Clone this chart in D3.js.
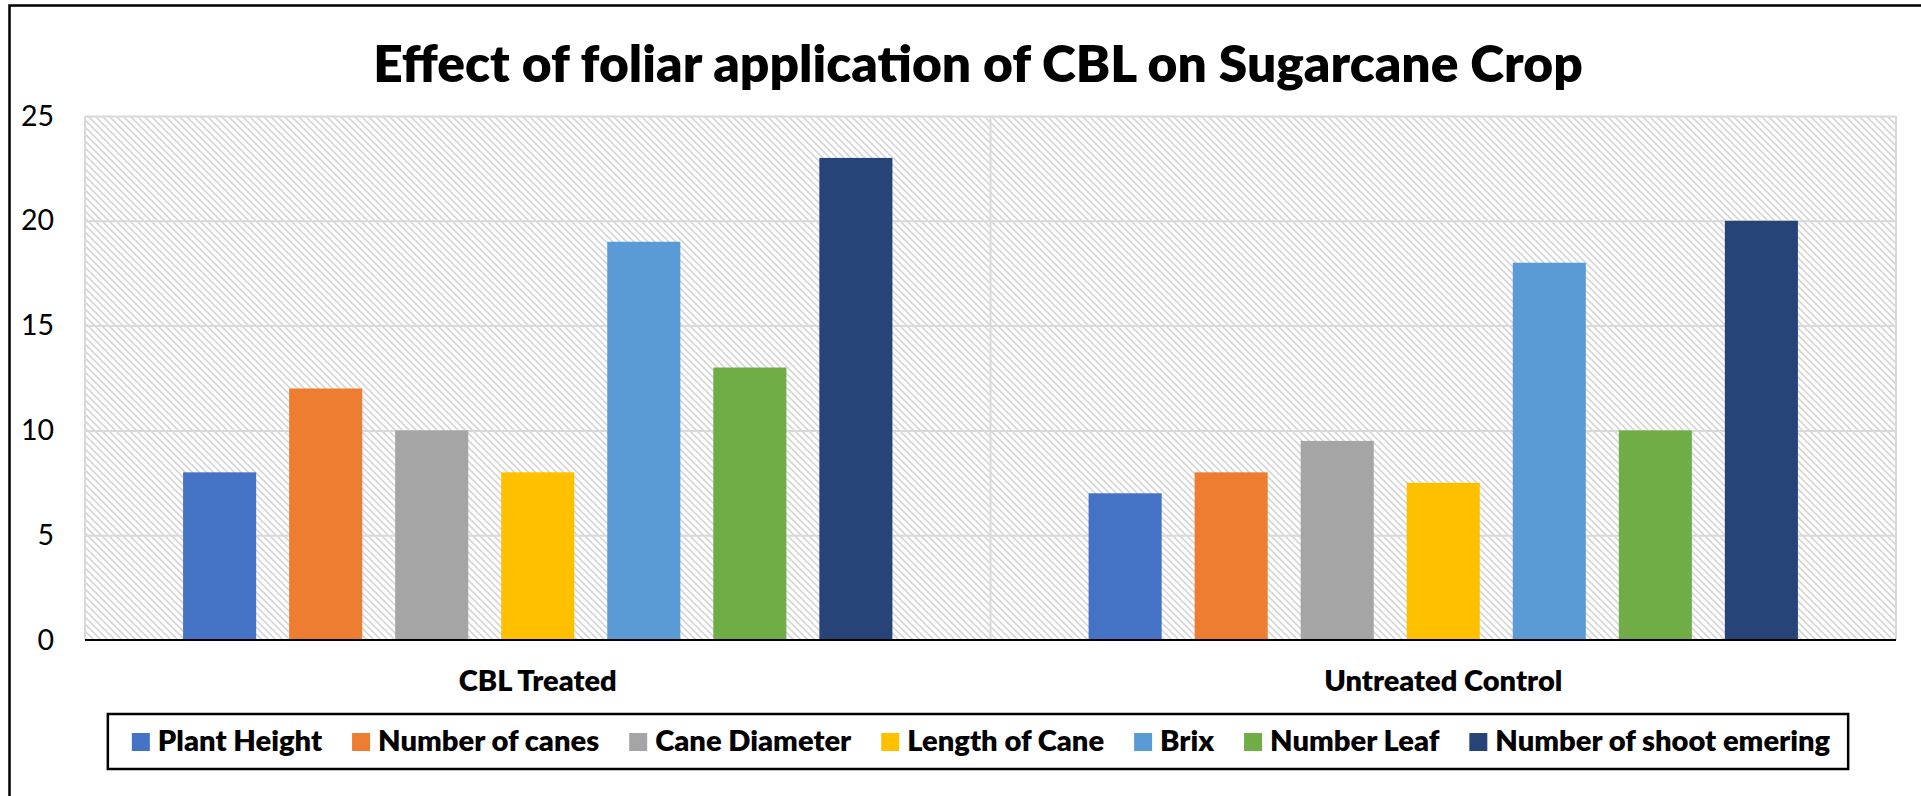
<!DOCTYPE html>
<html>
<head>
<meta charset="utf-8">
<script src="https://cdn.jsdelivr.net/npm/d3@7"></script>
<style>
  body { margin: 0; background: #fff; }
  svg { display: block; font-family: Lato, "Open Sans", sans-serif; }
</style>
</head>
<body>
<div id="canvas"></div>
<script>
// data
const categories = ["CBL Treated", "Untreated Control"];
const seriesNames = ["Plant Height", "Number of canes", "Cane Diameter", "Length of Cane",
                     "Brix", "Number Leaf", "Number of shoot emering"];
const cblTreated = [8, 12, 10, 8, 19, 13, 23];
const untreatedControl = [7, 8, 9.5, 7.5, 18, 10, 20];
const yTicks = [0, 5, 10, 15, 20, 25];
const colorArr = ["#4472C4", "#ED7D31", "#A5A5A5", "#FFC000", "#5B9BD5", "#70AD47", "#264478"];

const width = 1921, height = 796;
const plotLeft = 85, plotRight = 1896, plotTop = 116, plotBottom = 640;

const rows = categories.map((c, i) => ({
    cat: c,
    values: seriesNames.map((s, j) => ({ key: s, value: [cblTreated, untreatedControl][i][j] }))
}));

const svg = d3.select('#canvas').append('svg')
    .attr('width', width)
    .attr('height', height);

// hatch fill of the plot area
const defs = svg.append('defs');
const pat = defs.append('pattern')
    .attr('id', 'hatch')
    .attr('patternUnits', 'userSpaceOnUse')
    .attr('width', 7).attr('height', 7);
pat.append('rect').attr('width', 7).attr('height', 7).attr('fill', '#fff');
pat.append('path')
    .attr('d', 'M-1,-1 L8,8 M-1,6 L1,8 M6,-1 L8,1')
    .attr('stroke', '#d6d6d6')
    .attr('stroke-width', 1.6);

// outer chart border (runs off the right and bottom)
svg.append('rect')
    .attr('x', 9.5).attr('y', 5.5)
    .attr('width', 2000).attr('height', 900)
    .attr('fill', 'none')
    .attr('stroke', '#000')
    .attr('stroke-width', 2.5);

let y = d3.scaleLinear().domain([0, 25]).range([plotBottom, plotTop]);
let x0 = d3.scaleBand().domain(categories).range([plotLeft, plotRight]);
let x1 = d3.scaleBand().domain(seriesNames)
    .range([0, x0.bandwidth()])
    .paddingInner(0.311)
    .paddingOuter(0.925);
let color = d3.scaleOrdinal().domain(seriesNames).range(colorArr);

svg.append('rect')
    .attr('x', plotLeft).attr('y', plotTop)
    .attr('width', plotRight - plotLeft).attr('height', plotBottom - plotTop)
    .attr('fill', 'url(#hatch)');

// horizontal gridlines
svg.append('g')
    .attr('transform', `translate(${plotLeft},0)`)
    .call(d3.axisLeft(y).tickValues(yTicks.slice(1)).tickSize(-(plotRight - plotLeft)).tickFormat(''))
    .call(g => g.select('.domain').remove())
    .call(g => g.selectAll('line').attr('stroke', '#d9d9d9').attr('stroke-width', 2));

// vertical category dividers and plot edges
svg.append('g').selectAll('line')
    .data(categories.map(c => x0(c)).concat([plotRight]))
    .enter().append('line')
        .attr('x1', d => d).attr('x2', d => d)
        .attr('y1', plotTop).attr('y2', plotBottom)
        .attr('stroke', '#d9d9d9')
        .attr('stroke-width', 2);

// bars
svg.append('g').selectAll('g').data(rows)
    .enter().append('g')
        .attr('transform', d => `translate(${x0(d.cat)},0)`)
    .selectAll('rect').data(d => d.values)
    .enter().append('rect')
        .attr('x', d => x1(d.key))
        .attr('width', x1.bandwidth())
        .attr('y', d => y(d.value))
        .attr('height', d => y(0) - y(d.value))
        .attr('fill', d => color(d.key));

// baseline
svg.append('line')
    .attr('x1', plotLeft).attr('x2', plotRight)
    .attr('y1', y(0)).attr('y2', y(0))
    .attr('stroke', '#000')
    .attr('stroke-width', 2);

// y axis labels
svg.append('g')
    .attr('transform', `translate(${plotLeft},0)`)
    .call(d3.axisLeft(y).tickValues(yTicks).tickSize(0).tickPadding(31))
    .call(g => g.select('.domain').remove())
    .call(g => g.selectAll('text')
        .attr('font-family', 'Lato, sans-serif')
        .attr('font-size', 28.5)
        .attr('fill', '#000'));

// category labels
svg.append('g')
    .attr('transform', `translate(0,${plotBottom})`)
    .call(d3.axisBottom(x0).tickSize(0).tickPadding(30))
    .call(g => g.select('.domain').remove())
    .call(g => g.selectAll('text')
        .attr('font-family', 'Lato, sans-serif')
        .attr('font-size', 29)
        .attr('font-weight', 800)
        .attr('fill', '#000'));

// title, sized to span the same width as the original
const title = svg.append('text')
    .attr('x', 978).attr('y', 82)
    .attr('text-anchor', 'middle')
    .attr('font-size', 50)
    .attr('font-weight', 800)
    .text('Effect of foliar application of CBL on Sugarcane Crop');
const tw = title.node().getComputedTextLength();
title.attr('font-size', 50 * 1210 / tw);

// legend
const legendBox = svg.append('rect');
const legend = svg.append('g');
function drawLegend(fs) {
    legend.selectAll('*').remove();
    let lx = 0;
    seriesNames.forEach((s, i) => {
        const item = legend.append('g').attr('transform', `translate(${lx},0)`);
        item.append('rect')
            .attr('x', 0).attr('y', 733)
            .attr('width', 18).attr('height', 18)
            .attr('fill', color(s));
        const t = item.append('text')
            .attr('x', 26).attr('y', 751)
            .attr('font-size', fs)
            .attr('font-weight', 800)
            .text(s);
        lx += 26 + t.node().getComputedTextLength() + (i < seriesNames.length - 1 ? 30 : 0);
    });
    return lx;
}
let lw = drawLegend(28);
const textPart = lw - seriesNames.length * 26 - (seriesNames.length - 1) * 30;
lw = drawLegend(28 * (1699 - (lw - textPart)) / textPart);
const lStart = 981 - lw / 2;
legend.attr('transform', `translate(${lStart},0)`);
legendBox
    .attr('x', lStart - 24).attr('y', 714)
    .attr('width', lw + 42).attr('height', 55)
    .attr('fill', '#fff')
    .attr('stroke', '#000')
    .attr('stroke-width', 2.5);
</script>
</body>
</html>
